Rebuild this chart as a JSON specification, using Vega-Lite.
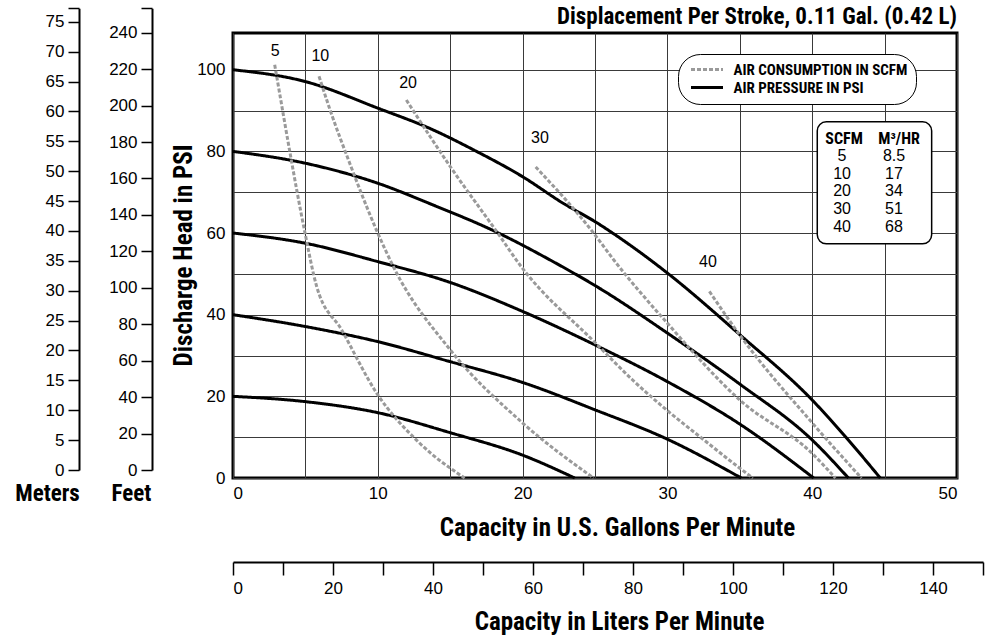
{
  "$schema": "https://vega.github.io/schema/vega-lite/v6.json",
  "width": 724,
  "height": 445,
  "autosize": {"type": "none"},
  "padding": {"left": 233, "top": 33, "right": 35, "bottom": 164},
  "background": "#ffffff",
  "title": {
    "text": "Displacement Per Stroke, 0.11 Gal. (0.42 L)",
    "anchor": "end",
    "frame": "group",
    "font": "Liberation Sans Narrow, Arial Narrow, Roboto Condensed, Noto Sans Condensed, Open Sans Condensed, DejaVu Sans Condensed, sans-serif",
    "fontSize": 23,
    "fontWeight": "bold",
    "color": "#000000",
    "baseline": "bottom",
    "offset": -18,
    "dy": 28
  },
  "config": {
    "view": {"stroke": "#000000", "strokeWidth": 3},
    "font": "Liberation Sans",
    "axis": {
      "labelFont": "Liberation Sans",
      "labelFontSize": 17,
      "labelColor": "#000000",
      "titleFont": "Liberation Sans Narrow, Arial Narrow, Roboto Condensed, Noto Sans Condensed, Open Sans Condensed, DejaVu Sans Condensed, sans-serif",
      "titleFontSize": 25,
      "titleFontWeight": "bold",
      "titleColor": "#000000",
      "domainColor": "#000000",
      "tickColor": "#000000"
    }
  },
  "layer": [
    {
      "encoding": {
        "x": {
          "field": "gpm",
          "type": "quantitative",
          "scale": {"domain": [0, 50], "nice": false, "zero": false},
          "axis": {
            "orient": "bottom",
            "values": [0, 5, 10, 15, 20, 25, 30, 35, 40, 45, 50],
            "labelExpr": "datum.value % 10 == 0 ? datum.label : ''",
            "ticks": false,
            "domain": false,
            "grid": true,
            "gridColor": "#3a3a3a",
            "gridWidth": 1,
            "gridOpacity": 1,
            "labelPadding": 7,
            "title": "Capacity in U.S. Gallons Per Minute",
            "titleX": 384,
            "titleY": 49,
            "titleAlign": "center",
            "titleBaseline": "middle"
          }
        },
        "y": {
          "field": "psi",
          "type": "quantitative",
          "scale": {"domain": [0, 109], "nice": false, "zero": false},
          "axis": {
            "orient": "left",
            "values": [0, 10, 20, 30, 40, 50, 60, 70, 80, 90, 100],
            "labelExpr": "datum.value % 20 == 0 ? datum.label : ''",
            "ticks": false,
            "domain": false,
            "grid": true,
            "gridColor": "#3a3a3a",
            "gridWidth": 1,
            "gridOpacity": 1,
            "labelPadding": 8,
            "title": "Discharge Head in PSI",
            "titleX": -50,
            "titleY": 222,
            "titleAngle": -90,
            "titleAlign": "center",
            "titleBaseline": "middle"
          }
        }
      },
      "layer": [
        {
          "data": {
            "values": [
              {"type": "AIR PRESSURE IN PSI", "curve": "100 PSI", "gpm": 0, "psi": 100},
              {"type": "AIR PRESSURE IN PSI", "curve": "100 PSI", "gpm": 5, "psi": 97.1},
              {"type": "AIR PRESSURE IN PSI", "curve": "100 PSI", "gpm": 10, "psi": 90.6},
              {"type": "AIR PRESSURE IN PSI", "curve": "100 PSI", "gpm": 13.8, "psi": 85.3},
              {"type": "AIR PRESSURE IN PSI", "curve": "100 PSI", "gpm": 16.6, "psi": 80.4},
              {"type": "AIR PRESSURE IN PSI", "curve": "100 PSI", "gpm": 20, "psi": 73.8},
              {"type": "AIR PRESSURE IN PSI", "curve": "100 PSI", "gpm": 22.8, "psi": 67.3},
              {"type": "AIR PRESSURE IN PSI", "curve": "100 PSI", "gpm": 25, "psi": 62.8},
              {"type": "AIR PRESSURE IN PSI", "curve": "100 PSI", "gpm": 27.4, "psi": 57.1},
              {"type": "AIR PRESSURE IN PSI", "curve": "100 PSI", "gpm": 30, "psi": 50.2},
              {"type": "AIR PRESSURE IN PSI", "curve": "100 PSI", "gpm": 35, "psi": 35.1},
              {"type": "AIR PRESSURE IN PSI", "curve": "100 PSI", "gpm": 40, "psi": 19.1},
              {"type": "AIR PRESSURE IN PSI", "curve": "100 PSI", "gpm": 42.4, "psi": 9.7},
              {"type": "AIR PRESSURE IN PSI", "curve": "100 PSI", "gpm": 44.7, "psi": 0},
              {"type": "AIR PRESSURE IN PSI", "curve": "80 PSI", "gpm": 0, "psi": 80},
              {"type": "AIR PRESSURE IN PSI", "curve": "80 PSI", "gpm": 5, "psi": 77.1},
              {"type": "AIR PRESSURE IN PSI", "curve": "80 PSI", "gpm": 10, "psi": 72.2},
              {"type": "AIR PRESSURE IN PSI", "curve": "80 PSI", "gpm": 13.8, "psi": 66.9},
              {"type": "AIR PRESSURE IN PSI", "curve": "80 PSI", "gpm": 18.1, "psi": 60.4},
              {"type": "AIR PRESSURE IN PSI", "curve": "80 PSI", "gpm": 21.9, "psi": 53.4},
              {"type": "AIR PRESSURE IN PSI", "curve": "80 PSI", "gpm": 25.3, "psi": 46.5},
              {"type": "AIR PRESSURE IN PSI", "curve": "80 PSI", "gpm": 30, "psi": 35.5},
              {"type": "AIR PRESSURE IN PSI", "curve": "80 PSI", "gpm": 35, "psi": 23},
              {"type": "AIR PRESSURE IN PSI", "curve": "80 PSI", "gpm": 40, "psi": 9.3},
              {"type": "AIR PRESSURE IN PSI", "curve": "80 PSI", "gpm": 42.5, "psi": 0},
              {"type": "AIR PRESSURE IN PSI", "curve": "60 PSI", "gpm": 0, "psi": 60},
              {"type": "AIR PRESSURE IN PSI", "curve": "60 PSI", "gpm": 5, "psi": 57.5},
              {"type": "AIR PRESSURE IN PSI", "curve": "60 PSI", "gpm": 10, "psi": 53},
              {"type": "AIR PRESSURE IN PSI", "curve": "60 PSI", "gpm": 15, "psi": 47.9},
              {"type": "AIR PRESSURE IN PSI", "curve": "60 PSI", "gpm": 20, "psi": 40.8},
              {"type": "AIR PRESSURE IN PSI", "curve": "60 PSI", "gpm": 25, "psi": 32.6},
              {"type": "AIR PRESSURE IN PSI", "curve": "60 PSI", "gpm": 30, "psi": 23.6},
              {"type": "AIR PRESSURE IN PSI", "curve": "60 PSI", "gpm": 35, "psi": 13.2},
              {"type": "AIR PRESSURE IN PSI", "curve": "60 PSI", "gpm": 40.1, "psi": 0},
              {"type": "AIR PRESSURE IN PSI", "curve": "40 PSI", "gpm": 0, "psi": 40},
              {"type": "AIR PRESSURE IN PSI", "curve": "40 PSI", "gpm": 5, "psi": 37.1},
              {"type": "AIR PRESSURE IN PSI", "curve": "40 PSI", "gpm": 10, "psi": 33.4},
              {"type": "AIR PRESSURE IN PSI", "curve": "40 PSI", "gpm": 15, "psi": 28.5},
              {"type": "AIR PRESSURE IN PSI", "curve": "40 PSI", "gpm": 20, "psi": 23.4},
              {"type": "AIR PRESSURE IN PSI", "curve": "40 PSI", "gpm": 25, "psi": 16.7},
              {"type": "AIR PRESSURE IN PSI", "curve": "40 PSI", "gpm": 30, "psi": 9.5},
              {"type": "AIR PRESSURE IN PSI", "curve": "40 PSI", "gpm": 35.1, "psi": 0},
              {"type": "AIR PRESSURE IN PSI", "curve": "20 PSI", "gpm": 0, "psi": 20},
              {"type": "AIR PRESSURE IN PSI", "curve": "20 PSI", "gpm": 5, "psi": 18.7},
              {"type": "AIR PRESSURE IN PSI", "curve": "20 PSI", "gpm": 10, "psi": 16},
              {"type": "AIR PRESSURE IN PSI", "curve": "20 PSI", "gpm": 15, "psi": 11.1},
              {"type": "AIR PRESSURE IN PSI", "curve": "20 PSI", "gpm": 20, "psi": 5.6},
              {"type": "AIR PRESSURE IN PSI", "curve": "20 PSI", "gpm": 23.6, "psi": 0},
              {"type": "AIR CONSUMPTION IN SCFM", "curve": "5 SCFM", "gpm": 2.88, "psi": 101.2},
              {"type": "AIR CONSUMPTION IN SCFM", "curve": "5 SCFM", "gpm": 3.1, "psi": 96.7},
              {"type": "AIR CONSUMPTION IN SCFM", "curve": "5 SCFM", "gpm": 3.9, "psi": 80.4},
              {"type": "AIR CONSUMPTION IN SCFM", "curve": "5 SCFM", "gpm": 4.95, "psi": 60.4},
              {"type": "AIR CONSUMPTION IN SCFM", "curve": "5 SCFM", "gpm": 5.78, "psi": 46.9},
              {"type": "AIR CONSUMPTION IN SCFM", "curve": "5 SCFM", "gpm": 7.5, "psi": 36.3},
              {"type": "AIR CONSUMPTION IN SCFM", "curve": "5 SCFM", "gpm": 9.92, "psi": 20.8},
              {"type": "AIR CONSUMPTION IN SCFM", "curve": "5 SCFM", "gpm": 12.9, "psi": 8.5},
              {"type": "AIR CONSUMPTION IN SCFM", "curve": "5 SCFM", "gpm": 16, "psi": 0},
              {"type": "AIR CONSUMPTION IN SCFM", "curve": "10 SCFM", "gpm": 5.94, "psi": 98.4},
              {"type": "AIR CONSUMPTION IN SCFM", "curve": "10 SCFM", "gpm": 6.7, "psi": 90.2},
              {"type": "AIR CONSUMPTION IN SCFM", "curve": "10 SCFM", "gpm": 8.06, "psi": 77.1},
              {"type": "AIR CONSUMPTION IN SCFM", "curve": "10 SCFM", "gpm": 9.9, "psi": 60.8},
              {"type": "AIR CONSUMPTION IN SCFM", "curve": "10 SCFM", "gpm": 11.07, "psi": 51.8},
              {"type": "AIR CONSUMPTION IN SCFM", "curve": "10 SCFM", "gpm": 15, "psi": 31.4},
              {"type": "AIR CONSUMPTION IN SCFM", "curve": "10 SCFM", "gpm": 19.9, "psi": 13.8},
              {"type": "AIR CONSUMPTION IN SCFM", "curve": "10 SCFM", "gpm": 24.9, "psi": 0},
              {"type": "AIR CONSUMPTION IN SCFM", "curve": "20 SCFM", "gpm": 11.97, "psi": 92.6},
              {"type": "AIR CONSUMPTION IN SCFM", "curve": "20 SCFM", "gpm": 13.6, "psi": 83.7},
              {"type": "AIR CONSUMPTION IN SCFM", "curve": "20 SCFM", "gpm": 15, "psi": 76.3},
              {"type": "AIR CONSUMPTION IN SCFM", "curve": "20 SCFM", "gpm": 18.2, "psi": 60.4},
              {"type": "AIR CONSUMPTION IN SCFM", "curve": "20 SCFM", "gpm": 19.9, "psi": 51.8},
              {"type": "AIR CONSUMPTION IN SCFM", "curve": "20 SCFM", "gpm": 25, "psi": 33.2},
              {"type": "AIR CONSUMPTION IN SCFM", "curve": "20 SCFM", "gpm": 27.6, "psi": 24},
              {"type": "AIR CONSUMPTION IN SCFM", "curve": "20 SCFM", "gpm": 30, "psi": 16.5},
              {"type": "AIR CONSUMPTION IN SCFM", "curve": "20 SCFM", "gpm": 32.25, "psi": 10.1},
              {"type": "AIR CONSUMPTION IN SCFM", "curve": "20 SCFM", "gpm": 35, "psi": 2.4},
              {"type": "AIR CONSUMPTION IN SCFM", "curve": "20 SCFM", "gpm": 35.9, "psi": 0},
              {"type": "AIR CONSUMPTION IN SCFM", "curve": "30 SCFM", "gpm": 20.9, "psi": 76.2},
              {"type": "AIR CONSUMPTION IN SCFM", "curve": "30 SCFM", "gpm": 24.9, "psi": 60},
              {"type": "AIR CONSUMPTION IN SCFM", "curve": "30 SCFM", "gpm": 26.3, "psi": 53.4},
              {"type": "AIR CONSUMPTION IN SCFM", "curve": "30 SCFM", "gpm": 30, "psi": 37.9},
              {"type": "AIR CONSUMPTION IN SCFM", "curve": "30 SCFM", "gpm": 35, "psi": 19.1},
              {"type": "AIR CONSUMPTION IN SCFM", "curve": "30 SCFM", "gpm": 40, "psi": 6},
              {"type": "AIR CONSUMPTION IN SCFM", "curve": "30 SCFM", "gpm": 41.6, "psi": 0},
              {"type": "AIR CONSUMPTION IN SCFM", "curve": "40 SCFM", "gpm": 32.9, "psi": 45.7},
              {"type": "AIR CONSUMPTION IN SCFM", "curve": "40 SCFM", "gpm": 35, "psi": 35},
              {"type": "AIR CONSUMPTION IN SCFM", "curve": "40 SCFM", "gpm": 40, "psi": 13.5},
              {"type": "AIR CONSUMPTION IN SCFM", "curve": "40 SCFM", "gpm": 43.4, "psi": 0}
            ]
          },
          "mark": {"type": "line", "interpolate": "monotone", "strokeWidth": 3},
          "encoding": {
            "detail": {"field": "curve", "type": "nominal"},
            "color": {
              "field": "type",
              "type": "nominal",
              "scale": {"domain": ["AIR CONSUMPTION IN SCFM", "AIR PRESSURE IN PSI"], "range": ["#9a9a9a", "#000000"]},
              "legend": {
                "title": null,
                "orient": "none",
                "legendX": 445,
                "legendY": 21,
                "symbolType": "M-3.2,0H3.2",
                "symbolSize": 100,
                "symbolStrokeWidth": 3,
                "symbolOffset": 13.5,
                "labelFont": "Liberation Sans Narrow, Arial Narrow, Roboto Condensed, Noto Sans Condensed, Open Sans Condensed, DejaVu Sans Condensed, sans-serif",
                "labelFontWeight": "bold",
                "labelFontSize": 15,
                "labelColor": "#000000",
                "labelOffset": 19,
                "labelLimit": 400,
                "padding": 8,
                "rowPadding": 2,
                "cornerRadius": 22,
                "strokeColor": "#000000",
                "fillColor": "#ffffff"
              }
            },
            "strokeDash": {
              "field": "type",
              "type": "nominal",
              "scale": {"domain": ["AIR CONSUMPTION IN SCFM", "AIR PRESSURE IN PSI"], "range": [[4, 2], [1, 0]]},
              "legend": {
                "title": null,
                "orient": "none",
                "legendX": 445,
                "legendY": 21,
                "symbolType": "M-3.2,0H3.2",
                "symbolSize": 100,
                "symbolStrokeWidth": 3,
                "symbolOffset": 13.5,
                "labelFont": "Liberation Sans Narrow, Arial Narrow, Roboto Condensed, Noto Sans Condensed, Open Sans Condensed, DejaVu Sans Condensed, sans-serif",
                "labelFontWeight": "bold",
                "labelFontSize": 15,
                "labelColor": "#000000",
                "labelOffset": 19,
                "labelLimit": 400,
                "padding": 8,
                "rowPadding": 2,
                "cornerRadius": 22,
                "strokeColor": "#000000",
                "fillColor": "#ffffff"
              }
            }
          }
        },
        {
          "data": {
            "values": [
              {"gpm": 2.92, "psi": 104.5, "label": "5"},
              {"gpm": 6.03, "psi": 103.3, "label": "10"},
              {"gpm": 12.09, "psi": 96.7, "label": "20"},
              {"gpm": 21.2, "psi": 83.3, "label": "30"},
              {"gpm": 32.8, "psi": 53.0, "label": "40"}
            ]
          },
          "mark": {"type": "text", "font": "Liberation Sans", "fontSize": 16, "color": "#000000", "baseline": "middle", "align": "center"},
          "encoding": {"text": {"field": "label", "type": "nominal"}}
        },
        {
          "data": {"values": [{"gpm": 40.35, "gpm2": 48.25, "psi": 87.25, "psi2": 57.35}]},
          "mark": {"type": "rect", "fill": "#ffffff", "stroke": "#000000", "strokeWidth": 1.5, "cornerRadius": 9},
          "encoding": {
            "x2": {"field": "gpm2"},
            "y2": {"field": "psi2"}
          }
        },
        {
          "data": {
            "values": [
              {"gpm": 42.2, "psi": 83.0, "text": "SCFM"},
              {"gpm": 46.0, "psi": 83.0, "text": "M³/HR"}
            ]
          },
          "mark": {"type": "text", "font": "Liberation Sans Narrow, Arial Narrow, Roboto Condensed, Noto Sans Condensed, Open Sans Condensed, DejaVu Sans Condensed, sans-serif", "fontWeight": "bold", "fontSize": 16, "color": "#000000", "baseline": "middle", "align": "center"},
          "encoding": {"text": {"field": "text", "type": "nominal"}}
        },
        {
          "data": {
            "values": [
              {"gpm": 42.06, "psi": 78.75, "text": "5"},
              {"gpm": 45.65, "psi": 78.75, "text": "8.5"},
              {"gpm": 42.06, "psi": 74.4, "text": "10"},
              {"gpm": 45.65, "psi": 74.4, "text": "17"},
              {"gpm": 42.06, "psi": 70.2, "text": "20"},
              {"gpm": 45.65, "psi": 70.2, "text": "34"},
              {"gpm": 42.06, "psi": 65.9, "text": "30"},
              {"gpm": 45.65, "psi": 65.9, "text": "51"},
              {"gpm": 42.06, "psi": 61.6, "text": "40"},
              {"gpm": 45.65, "psi": 61.6, "text": "68"}
            ]
          },
          "mark": {"type": "text", "font": "Liberation Sans", "fontSize": 16, "color": "#000000", "baseline": "middle", "align": "center"},
          "encoding": {"text": {"field": "text", "type": "nominal"}}
        }
      ]
    },
    {
      "data": {"values": [{"m": 0}, {"m": 77.25}]},
      "mark": {"type": "point", "opacity": 0},
      "encoding": {
        "y": {
          "field": "m",
          "type": "quantitative",
          "scale": {"domain": [0, 77.25], "range": [437, -24.7], "nice": false, "zero": false},
          "axis": {
            "orient": "left",
            "offset": 154,
            "values": [0, 5, 10, 15, 20, 25, 30, 35, 40, 45, 50, 55, 60, 65, 70, 75, 77.25],
            "labelExpr": "datum.value % 5 == 0 ? datum.label : ''",
            "grid": false,
            "tickSize": 11,
            "tickWidth": 1.5,
            "domainWidth": 2,
            "labelPadding": 4,
            "title": "Meters",
            "titleFontSize": 23,
            "titleAngle": 0,
            "titleX": -32,
            "titleY": 460,
            "titleAlign": "center",
            "titleBaseline": "middle"
          }
        }
      }
    },
    {
      "data": {"values": [{"ft": 0}, {"ft": 253.4}]},
      "mark": {"type": "point", "opacity": 0},
      "encoding": {
        "y": {
          "field": "ft",
          "type": "quantitative",
          "scale": {"domain": [0, 253.4], "range": [437, -24.7], "nice": false, "zero": false},
          "axis": {
            "orient": "left",
            "offset": 81,
            "values": [0, 20, 40, 60, 80, 100, 120, 140, 160, 180, 200, 220, 240, 253.4],
            "labelExpr": "datum.value % 20 == 0 ? datum.label : ''",
            "grid": false,
            "tickSize": 11,
            "tickWidth": 1.5,
            "domainWidth": 2,
            "labelPadding": 4,
            "title": "Feet",
            "titleFontSize": 23,
            "titleAngle": 0,
            "titleX": -21,
            "titleY": 460,
            "titleAlign": "center",
            "titleBaseline": "middle"
          }
        }
      }
    },
    {
      "data": {"values": [{"lpm": 0}, {"lpm": 150}]},
      "mark": {"type": "point", "opacity": 0},
      "encoding": {
        "x": {
          "field": "lpm",
          "type": "quantitative",
          "scale": {"domain": [0, 150], "range": [0, 750], "nice": false, "zero": false},
          "axis": {
            "orient": "bottom",
            "offset": 84,
            "values": [0, 10, 20, 30, 40, 50, 60, 70, 80, 90, 100, 110, 120, 130, 140, 150],
            "labelExpr": "datum.value % 20 == 0 && datum.value < 150 ? datum.label : ''",
            "grid": false,
            "tickSize": 13,
            "tickWidth": 1.5,
            "domainWidth": 2,
            "labelPadding": 5,
            "title": "Capacity in Liters Per Minute",
            "titleX": 386,
            "titleY": 59,
            "titleAlign": "center",
            "titleBaseline": "middle"
          }
        }
      }
    }
  ],
  "resolve": {"scale": {"x": "independent", "y": "independent"}}
}
